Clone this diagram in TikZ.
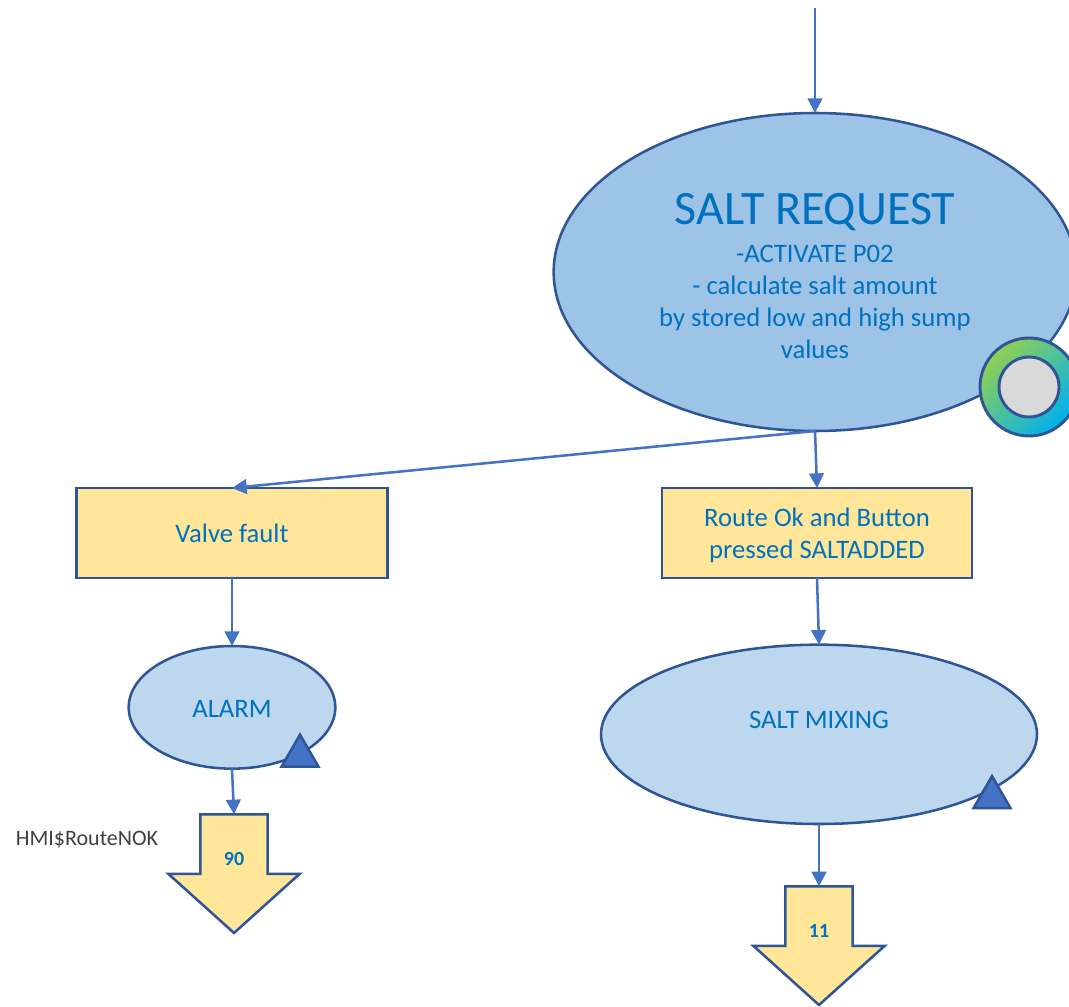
\documentclass[tikz,border=0pt]{standalone}
\usepackage{fontspec}
\setmainfont{Carlito}
\usetikzlibrary{shapes.geometric, shapes.arrows, arrows.meta, positioning}
\definecolor{edgeblue}{HTML}{2F5597}
\definecolor{linkblue}{HTML}{4472C4}
\definecolor{textblue}{HTML}{0070C0}
\definecolor{stateblue}{HTML}{9DC3E6}
\definecolor{paleblue}{HTML}{BDD7EE}
\definecolor{condyellow}{HTML}{FFE699}
\definecolor{ringgreen}{HTML}{92D050}
\definecolor{ringcyan}{HTML}{00B0F0}
\tikzset{
    statebig/.style={ellipse, draw=edgeblue, line width=1.9pt, fill=stateblue, inner sep=0pt, outer sep=0pt, minimum width=392pt, minimum height=238.5pt},
    statesmall/.style={ellipse, draw=edgeblue, line width=1.9pt, fill=paleblue, inner sep=0pt, outer sep=0pt},
    statetext/.style={text=textblue, align=center, inner sep=0pt, font=\fontsize{20}{24}\selectfont},
    condbox/.style={rectangle, draw=edgeblue, line width=1.9pt, fill=condyellow, inner sep=0pt, outer sep=0pt, minimum width=232.5pt, minimum height=67.5pt},
    jump/.style={single arrow, shape border rotate=270, draw=edgeblue, line width=1.9pt, fill=condyellow, inner sep=24.25pt, outer sep=0pt, minimum height=89pt, minimum width=96.5pt, single arrow head extend=24pt, single arrow head indent=0pt, single arrow tip angle=96},
    jumptext/.style={text=textblue, inner sep=0pt, font=\fontsize{15}{18}\selectfont\bfseries},
    marker/.style={regular polygon, regular polygon sides=3, draw=edgeblue, line width=1.9pt, fill=linkblue, inner sep=0pt, outer sep=0pt, minimum size=32pt},
    ringouter/.style={circle, draw=edgeblue, line width=2.2pt, top color=ringgreen, bottom color=ringcyan, shading angle=45, inner sep=0pt, minimum size=73.5pt},
    ringinner/.style={circle, draw=edgeblue, line width=2.2pt, fill=black!15, inner sep=0pt, minimum size=45pt},
    arrow/.style={line width=1.9pt, draw=linkblue, -{Triangle[length=11pt, width=11pt]}}
}
\begin{document}
\begin{tikzpicture}[x=0.75pt, y=-0.75pt]
    \useasboundingbox (0,0) rectangle (1069,1006);
    \coordinate (entry) at (815,8);

    \node[statebig, label={[statetext, yshift=-3pt]center:{\fontsize{36}{36}\selectfont SALT REQUEST}\\[4pt]
        -ACTIVATE P02\\
        - calculate salt amount\\
        by stored low and high sump\\
        values}] (saltrequest) at (815,272) {};
    \node[condbox, below=42.75pt of saltrequest, xshift=1.5pt, label={[statetext, yshift=-1.5pt]center:Route Ok and Button\\pressed SALTADDED}] (routeok) {};
    \node[condbox, minimum width=233pt, left=206pt of routeok, label={[statetext]center:Valve fault}] (valvefault) {};
    \node[statesmall, minimum width=327pt, minimum height=134.5pt, below=50pt of routeok, xshift=1.5pt, label={[statetext, yshift=10.5pt]center:SALT MIXING}] (saltmixing) {};
    \node[statesmall, minimum width=155pt, minimum height=92pt, below=51pt of valvefault, label={[statetext, yshift=-1.5pt]center:ALARM}] (alarm) {};

    \node[ringouter] (ring) at (1029,387) {};
    \node[ringinner] (ringcore) at (ring.center) {};

    \node[marker] (alarmmark) at (300,756) {};
    \node[marker] (mixingmark) at (992,797.5) {};

    \node[jump] (jump90) at (234,858.5) {};
    \node[jumptext] (num90) at (234,859) {90};
    \node[jump] (jump11) at (819,930.5) {};
    \node[jumptext] (num11) at (819,931) {11};
    \node[text=black!75, inner sep=0pt, font=\fontsize{16.5}{18}\selectfont] (routenok) at (87,840) {HMI\$RouteNOK};

    \draw[arrow] (entry) -- (saltrequest.north);
    \draw[arrow] (saltrequest.south) -- (valvefault.north);
    \draw[arrow] (saltrequest.south) -- (routeok.north);
    \draw[arrow] (valvefault.south) -- (alarm.north);
    \draw[arrow] (routeok.south) -- (saltmixing.north);
    \draw[arrow] (alarm.south) -- (jump90.tail);
    \draw[arrow] (saltmixing.south) -- (jump11.tail);
\end{tikzpicture}
\end{document}
